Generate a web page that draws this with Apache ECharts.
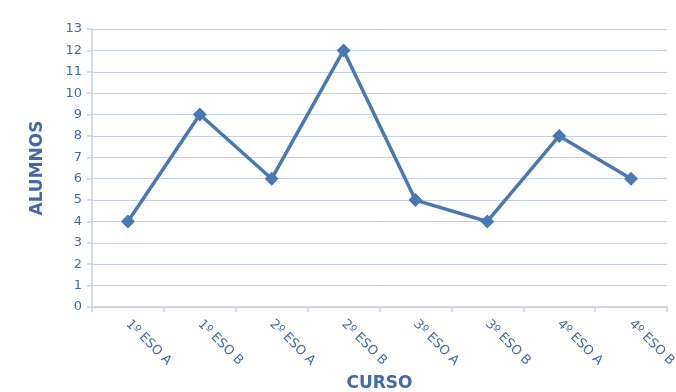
<!DOCTYPE html>
<html>
<head>
<meta charset="utf-8">
<script src="https://cdn.jsdelivr.net/npm/echarts@6/dist/echarts.min.js"></script>
<style>
  html, body { margin: 0; padding: 0; background: #ffffff; }
  #chart { width: 676px; height: 392px; }
</style>
</head>
<body>
<div id="chart"></div>
<script>
// Students per course group
const cursos = ['1º ESO A', '1º ESO B', '2º ESO A', '2º ESO B', '3º ESO A', '3º ESO B', '4º ESO A', '4º ESO B'];
const alumnos = [4, 9, 6, 12, 5, 4, 8, 6];

const textBlue = '#4369a6';
const gridBlue = '#c3d1e6';
const lineBlue = '#4a78b2';

const chart = echarts.init(document.getElementById('chart'));
chart.setOption({
  backgroundColor: '#ffffff',
  animation: false,
  grid: { left: 92, right: 9, top: 29, bottom: 85, containLabel: false, outerBoundsMode: 'none' },
  xAxis: {
    type: 'category',
    data: cursos,
    boundaryGap: true,
    name: 'CURSO',
    nameLocation: 'middle',
    nameGap: 68,
    nameTextStyle: { color: textBlue, fontSize: 17, fontWeight: 'bold', fontFamily: 'DejaVu Sans' },
    axisLine: { lineStyle: { color: gridBlue, width: 1.5 } },
    axisTick: { show: true, alignWithLabel: false, length: 5, lineStyle: { color: gridBlue, width: 1.5 } },
    axisLabel: {
      rotate: -45,
      color: textBlue,
      fontSize: 13,
      fontFamily: 'DejaVu Sans',
      margin: 15
    }
  },
  yAxis: {
    type: 'value',
    min: 0,
    max: 13,
    interval: 1,
    name: 'ALUMNOS',
    nameLocation: 'middle',
    nameGap: 46,
    nameRotate: 90,
    nameTextStyle: { color: textBlue, fontSize: 17, fontWeight: 'bold', fontFamily: 'DejaVu Sans' },
    axisLine: { show: true, lineStyle: { color: gridBlue, width: 1.5 } },
    axisTick: { show: true, length: 5, lineStyle: { color: gridBlue, width: 1.5 } },
    splitLine: { show: true, lineStyle: { color: gridBlue, width: 1 } },
    axisLabel: { color: textBlue, fontSize: 13, fontFamily: 'DejaVu Sans', margin: 10 }
  },
  series: [{
    type: 'line',
    data: alumnos,
    symbol: 'diamond',
    symbolSize: 14,
    lineStyle: { color: lineBlue, width: 3.5 },
    itemStyle: { color: lineBlue }
  }]
});
</script>
</body>
</html>
